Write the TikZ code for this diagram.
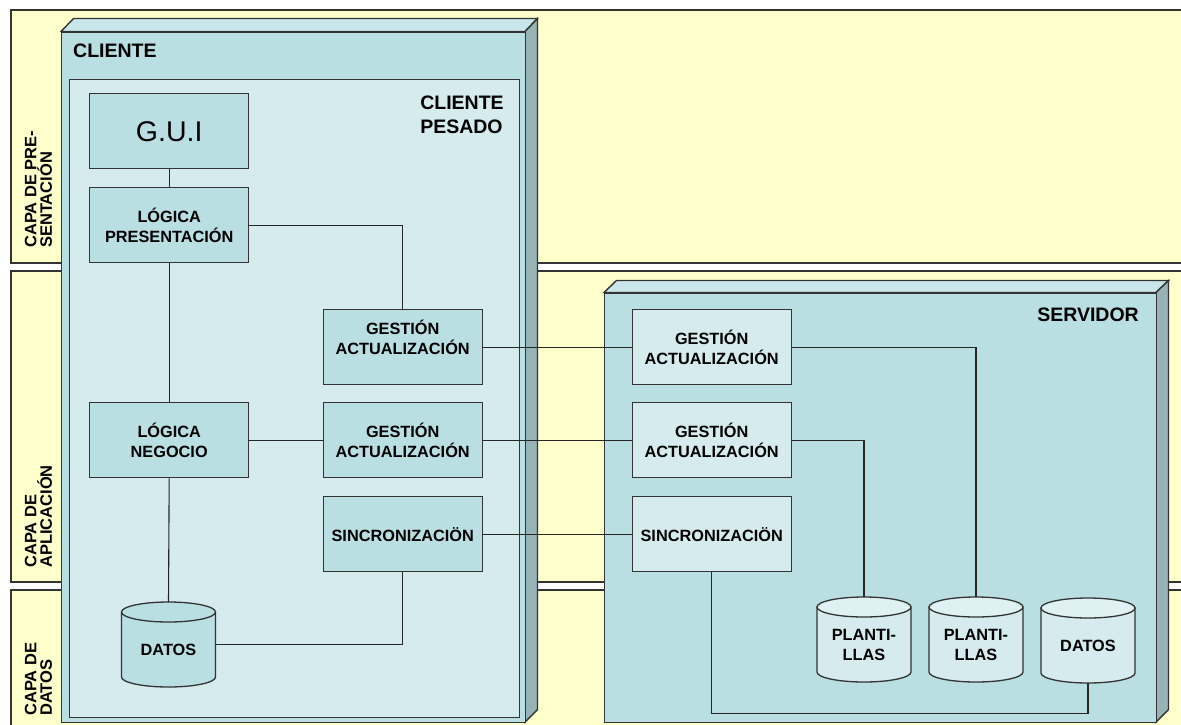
\documentclass[tikz,border=0pt]{standalone}
\usepackage{fontspec}
\setmainfont{Liberation Sans}
\definecolor{bandcol}{HTML}{FFFFCC}
\definecolor{bodycol}{HTML}{B9DFE3}
\definecolor{innercol}{HTML}{D6EBEE}
\definecolor{topcol}{HTML}{C9E7EA}
\definecolor{sidecol}{HTML}{97B3B6}
\definecolor{edgecol}{HTML}{333333}
\definecolor{cyltopcol}{HTML}{E0F1F3}
\newcommand\lbl{\bfseries\fontsize{16.3}{20}\selectfont}
\newcommand\biglbl{\bfseries\fontsize{19.5}{24}\selectfont}
\newcommand{\dbcyl}[6]{%
 \path[cylline, fill=#4] (#2-47,#3+10) -- (#2-47,#3+75) arc[start angle=180,end angle=360,x radius=47pt,y radius=10pt] -- (#2+47,#3+10) -- cycle;
 \path[cylline, fill=#5] (#2,#3+10) ellipse[x radius=47pt,y radius=10pt];
 \node[cylnode] (#1) at (#2,#3+42.5) {};
 \node[cyltext] (#1-text) at (#2,#3+47.5) {#6};}
\begin{document}
\begin{tikzpicture}[x=1pt,y=-1pt,
 bandbox/.style={draw=edgecol, line width=1.8pt, fill=bandcol, anchor=north west, inner sep=0},
 layerlbl/.style={rotate=90, anchor=west, align=left, inner sep=0, font=\bfseries\fontsize{16.5}{15.5}\selectfont},
 frontface/.style={draw=edgecol, line width=1.4pt, fill=bodycol, anchor=north west, inner sep=0},
 topface/.style={draw=edgecol, line width=1.4pt, fill=topcol},
 sideface/.style={draw=edgecol, line width=1.4pt, fill=sidecol},
 innerbox/.style={draw=edgecol, line width=1.4pt, fill=innercol, anchor=north west, inner sep=0},
 cbox/.style={draw=edgecol, line width=1.4pt, fill=bodycol, minimum width=159pt, minimum height=75pt, anchor=north west, inner sep=0, align=center, font=\lbl},
 sbox/.style={cbox, fill=innercol},
 cylline/.style={draw=edgecol, line width=1.3pt},
 cylnode/.style={minimum width=94pt, minimum height=85pt, inner sep=0, outer sep=0},
 cyltext/.style={align=center, inner sep=0, font=\lbl},
 link/.style={draw=black!85, line width=1.1pt},
 title/.style={inner sep=0, font=\biglbl}]
\useasboundingbox (0,0) rectangle (1181,724);
\fill[white] (0,0) rectangle (1181,724);
% layer bands
\node[bandbox, minimum width=1190pt, minimum height=253pt] (b1) at (10,9) {};
\node[bandbox, minimum width=1190pt, minimum height=311pt] (b2) at (10,270) {};
\node[bandbox, minimum width=1190pt, minimum height=150pt] (b3) at (10,589) {};
\node[layerlbl] (l1) at (38.5,248) {CAPA DE PRE-\\SENTACIÓN};
\node[layerlbl] (l2) at (38.5,568) {CAPA DE\\APLICACIÓN};
\node[layerlbl] (l3) at (38.5,716) {CAPA DE\\DATOS};
% CLIENTE node
\draw[topface] (61,31.5) -- (73.5,18.5) -- (537.5,18.5) -- (525,31.5) -- cycle;
\draw[sideface] (525,31.5) -- (537.5,18.5) -- (537.5,709.5) -- (525,722) -- cycle;
\node[frontface, minimum width=464pt, minimum height=690.5pt] (cliente) at (61,31.5) {};
\node[title, anchor=base west] (clientelbl) at (73,57) {CLIENTE};
\node[innerbox, minimum width=450.5pt, minimum height=638pt] (pesado) at (68.5,79) {};
\node[title, align=left] (pesadolbl) at (462,115) {CLIENTE\\PESADO};
% SERVIDOR node
\draw[topface] (604,292.5) -- (616.5,280.5) -- (1168.5,280.5) -- (1156,292.5) -- cycle;
\draw[sideface] (1156,292.5) -- (1168.5,280.5) -- (1168.5,709.5) -- (1156,722) -- cycle;
\node[frontface, minimum width=552pt, minimum height=429.5pt] (servidor) at (604,292.5) {};
\node[title, anchor=east] (servidorlbl) at (1139,315) {SERVIDOR};
% client components
\node[cbox, font=\fontsize{28.5}{30}\selectfont] (gui) at (89,93) {G.U.I};
\node[cbox] (lp) at (89,187) {LÓGICA\\PRESENTACIÓN};
\node[cbox] (ln) at (89,402) {LÓGICA\\NEGOCIO};
\node[cbox] (cg1) at (322.5,309) {GESTIÓN\\ACTUALIZACIÓN\\\mbox{}};
\node[cbox] (cg2) at (322.5,402) {GESTIÓN\\ACTUALIZACIÓN};
\node[cbox] (cs) at (322.5,496) {SINCRONIZACIÖN};
% server components
\node[sbox] (sg1) at (631.5,309) {GESTIÓN\\ACTUALIZACIÓN};
\node[sbox] (sg2) at (631.5,402) {GESTIÓN\\ACTUALIZACIÓN};
\node[sbox] (ss) at (631.5,496) {SINCRONIZACIÖN};
% data stores
\dbcyl{cdb}{168.5}{602}{bodycol}{bodycol}{DATOS}
\dbcyl{p1}{864}{597}{innercol}{cyltopcol}{PLANTI-\\LLAS}
\dbcyl{p2}{976}{597}{innercol}{cyltopcol}{PLANTI-\\LLAS}
\dbcyl{sdb}{1088}{598}{innercol}{cyltopcol}{DATOS}
% connectors
\draw[link] (gui) -- (lp);
\draw[link] (lp.east) -| (cg1.north);
\draw[link] (lp) -- (ln);
\draw[link] (ln) -- (cg2);
\draw[link] (ln.south) -- (cdb.north);
\draw[link] (cs.south) |- (cdb.east);
\draw[link] (cg1) -- (sg1);
\draw[link] (cg2) -- (sg2);
\draw[link] (cs) -- (ss);
\draw[link] (sg1.east) -| (p2.north);
\draw[link] (sg2.east) -| (p1.north);
\draw[link] (ss.south) -- ++(0,141) -| (sdb.south);
\end{tikzpicture}
\end{document}
